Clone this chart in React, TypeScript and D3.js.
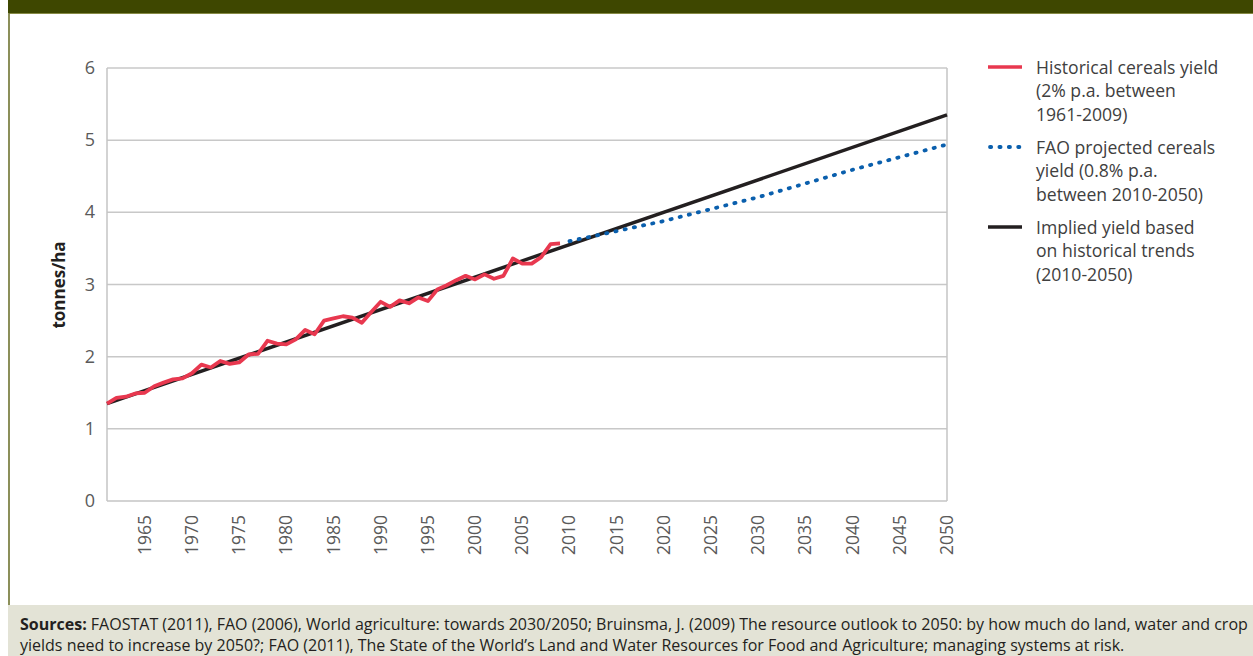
import React, { useEffect, useRef } from "react";
import * as d3 from "d3";

// historical cereals yield, tonnes/ha, one value per year from 1961
const histStart = 1961;
const histValues = [
  1.35, 1.43, 1.445, 1.49, 1.5, 1.59, 1.64, 1.685, 1.7, 1.77, 1.89, 1.85, 1.94,
  1.9, 1.92, 2.03, 2.04, 2.22, 2.18, 2.17, 2.24, 2.37, 2.31, 2.5, 2.53, 2.56,
  2.54, 2.47, 2.62, 2.76, 2.69, 2.78, 2.74, 2.82, 2.77, 2.93, 2.99, 3.06, 3.12,
  3.07, 3.14, 3.08, 3.12, 3.36, 3.29, 3.29, 3.38, 3.56, 3.57,
];

// implied yield based on historical trend
const trendYears = [1961, 2050];
const trendValues = [1.35, 5.35];

// FAO projection
const faoYears = [2010, 2020, 2030, 2040, 2050];
const faoValues = [3.6, 3.88, 4.21, 4.59, 4.94];

const yTicks = [0, 1, 2, 3, 4, 5, 6];
const xTickYears = [
  1965, 1970, 1975, 1980, 1985, 1990, 1995, 2000, 2005, 2010, 2015, 2020, 2025,
  2030, 2035, 2040, 2045, 2050,
];

const legendItems = [
  { lines: ["Historical cereals yield", "(2% p.a. between", "1961-2009)"], color: "#e8384f", dotted: false },
  { lines: ["FAO projected cereals", "yield (0.8% p.a.", "between 2010-2050)"], color: "#0a5fad", dotted: true },
  { lines: ["Implied yield based", "on historical trends", "(2010-2050)"], color: "#231f20", dotted: false },
];

const sourceLines = [
  { bold: "Sources:", rest: " FAOSTAT (2011), FAO (2006), World agriculture: towards 2030/2050; Bruinsma, J. (2009) The resource outlook to 2050: by how much do land, water and crop" },
  { bold: "", rest: "yields need to increase by 2050?; FAO (2011), The State of the World\u2019s Land and Water Resources for Food and Agriculture; managing systems at risk." },
];

const FONT = "'Open Sans', 'Noto Sans', sans-serif";

const YieldChart = () => {
  const svgRef = useRef<SVGSVGElement>(null);

  useEffect(() => {
    const width = 1253;
    const height = 656;
    const svg = d3.select(svgRef.current).attr("width", width).attr("height", height);
    svg.selectAll("*").remove();

    // frame
    svg.append("rect").attr("x", 0).attr("y", 0).attr("width", width).attr("height", height).attr("fill", "#fff");
    svg.append("rect").attr("x", 8).attr("y", 0).attr("width", width - 8).attr("height", 13).attr("fill", "#3e4700");
    svg.append("line").attr("x1", 9).attr("x2", width).attr("y1", 13.5).attr("y2", 13.5).attr("stroke", "#868a45").attr("stroke-width", 1.2);
    svg.append("line").attr("x1", 9).attr("x2", 9).attr("y1", 13).attr("y2", 606).attr("stroke", "#6f7330").attr("stroke-width", 1.6);
    svg.append("rect").attr("x", 8).attr("y", 605).attr("width", width - 8).attr("height", height - 605).attr("fill", "#e3e3d6");

    const x = d3.scaleLinear().domain([1961, 2050]).range([107, 947]);
    const y = d3.scaleLinear().domain([0, 6]).range([501, 68]);

    // grid
    svg
      .append("g")
      .selectAll("line")
      .data(yTicks.filter((t) => t > 0))
      .join("line")
      .attr("x1", x(1961))
      .attr("x2", x(2050))
      .attr("y1", (d) => y(d))
      .attr("y2", (d) => y(d))
      .attr("stroke", "#c8c8c8")
      .attr("stroke-width", 1.5);

    svg.append("line").attr("x1", x(1961)).attr("x2", x(1961)).attr("y1", y(6)).attr("y2", y(0)).attr("stroke", "#c4c4c4").attr("stroke-width", 1.5);
    svg.append("line").attr("x1", x(2050)).attr("x2", x(2050)).attr("y1", y(6)).attr("y2", y(0)).attr("stroke", "#c4c4c4").attr("stroke-width", 1.5);
    svg.append("line").attr("x1", x(1961)).attr("x2", x(2050)).attr("y1", y(0)).attr("y2", y(0)).attr("stroke", "#c4c4c4").attr("stroke-width", 1.5);

    // y tick labels
    svg
      .append("g")
      .selectAll("text")
      .data(yTicks)
      .join("text")
      .attr("x", 95)
      .attr("y", (d) => y(d) + 6)
      .attr("text-anchor", "end")
      .attr("font-family", FONT)
      .attr("font-size", 18)
      .attr("fill", "#5a5a5a")
      .text((d) => d);

    // x tick labels
    svg
      .append("g")
      .selectAll("text")
      .data(xTickYears)
      .join("text")
      .attr("transform", (d) => `translate(${x(d) + 6},515) rotate(-90)`)
      .attr("text-anchor", "end")
      .attr("font-family", FONT)
      .attr("font-size", 17.5)
      .attr("fill", "#5a5a5a")
      .text((d) => d);

    // y title
    svg
      .append("text")
      .attr("transform", "translate(65,285) rotate(-90)")
      .attr("text-anchor", "middle")
      .attr("font-family", FONT)
      .attr("font-weight", "bold")
      .attr("font-size", 17)
      .attr("fill", "#231f20")
      .text("tonnes/ha");

    const line = d3
      .line<[number, number]>()
      .x((d) => x(d[0]))
      .y((d) => y(d[1]));

    const trendData = trendYears.map((yr, i) => [yr, trendValues[i]] as [number, number]);
    const faoData = faoYears.map((yr, i) => [yr, faoValues[i]] as [number, number]);
    const histData = histValues.map((v, i) => [histStart + i, v] as [number, number]);

    svg.append("path").datum(trendData).attr("d", line).attr("fill", "none").attr("stroke", "#231f20").attr("stroke-width", 3.5);
    svg
      .append("path")
      .datum(faoData)
      .attr("d", line)
      .attr("fill", "none")
      .attr("stroke", "#0a5fad")
      .attr("stroke-width", 3.8)
      .attr("stroke-linecap", "round")
      .attr("stroke-dasharray", "1.2 8.2");
    svg
      .append("path")
      .datum(histData)
      .attr("d", line)
      .attr("fill", "none")
      .attr("stroke", "#e8384f")
      .attr("stroke-width", 3.8)
      .attr("stroke-linejoin", "round");

    // legend
    const legend = svg.append("g");
    legendItems.forEach((item, i) => {
      const cy = 67 + i * 80;
      legend
        .append("line")
        .attr("x1", item.dotted ? 990 : 988)
        .attr("x2", item.dotted ? 1020 : 1022)
        .attr("y1", cy)
        .attr("y2", cy)
        .attr("stroke", item.color)
        .attr("stroke-width", item.dotted ? 3.8 : 3.5)
        .attr("stroke-linecap", item.dotted ? "round" : "butt")
        .attr("stroke-dasharray", item.dotted ? "1.2 8.2" : null);
      item.lines.forEach((t, j) => {
        legend
          .append("text")
          .attr("x", 1036)
          .attr("y", cy + 7 + j * 23.3)
          .attr("font-family", FONT)
          .attr("font-size", 17.6)
          .attr("fill", "#404040")
          .text(t);
      });
    });

    // sources
    sourceLines.forEach((s, i) => {
      const t = svg
        .append("text")
        .attr("x", 20)
        .attr("y", 630 + i * 21)
        .attr("font-family", FONT)
        .attr("font-size", 16)
        .attr("fill", "#231f20");
      if (s.bold) t.append("tspan").attr("font-weight", "bold").text(s.bold);
      t.append("tspan").text(s.rest);
    });
  }, []);

  return <svg ref={svgRef}></svg>;
};

export default function App() {
  return (
    <div style={{ position: "fixed", left: 0, top: 0 }}>
      <YieldChart />
    </div>
  );
}
